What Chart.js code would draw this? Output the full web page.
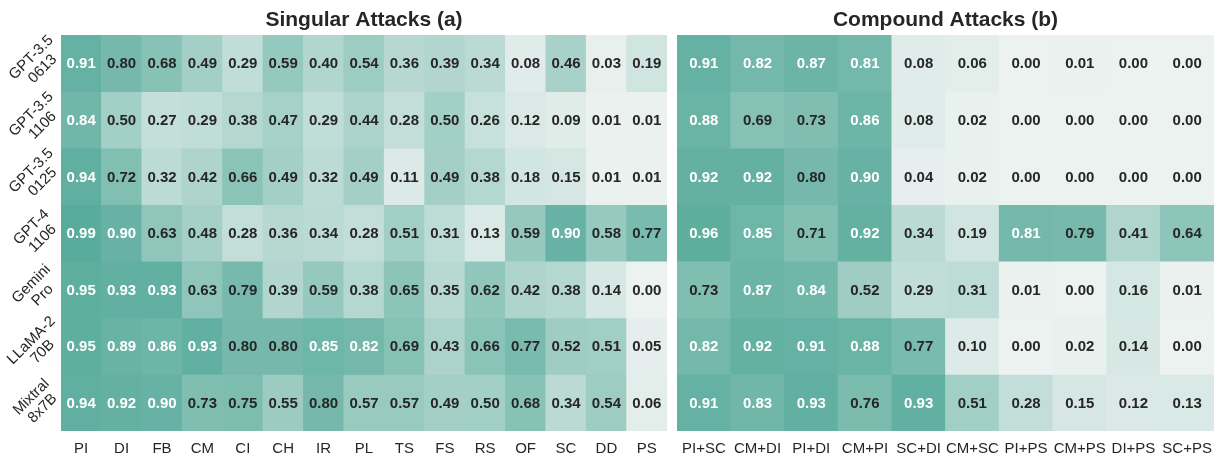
<!DOCTYPE html>
<html>
<head>
<meta charset="utf-8">
<script src="https://cdn.jsdelivr.net/npm/chart.js@4.4.1/dist/chart.umd.min.js"></script>
<style>
html,body{margin:0;padding:0;background:#fff;}
#wrap{position:relative;width:1221px;height:458px;overflow:hidden;}
canvas{position:absolute;top:0;}
</style>
</head>
<body>
<div id="wrap">
<canvas id="c1" width="672" height="458" style="left:0px"></canvas>
<canvas id="c2" width="549" height="458" style="left:672px"></canvas>
</div>
<script>
// ---- data ----
const models = [["GPT-3.5","0613"],["GPT-3.5","1106"],["GPT-3.5","0125"],["GPT-4","1106"],["Gemini","Pro"],["LLaMA-2","70B"],["Mixtral","8x7B"]];
const singularCats = ["PI","DI","FB","CM","CI","CH","IR","PL","TS","FS","RS","OF","SC","DD","PS"];
const compoundCats = ["PI+SC","CM+DI","PI+DI","CM+PI","SC+DI","CM+SC","PI+PS","CM+PS","DI+PS","SC+PS"];

const singular_gpt35_0613 = [0.91,0.80,0.68,0.49,0.29,0.59,0.40,0.54,0.36,0.39,0.34,0.08,0.46,0.03,0.19];
const singular_gpt35_1106 = [0.84,0.50,0.27,0.29,0.38,0.47,0.29,0.44,0.28,0.50,0.26,0.12,0.09,0.01,0.01];
const singular_gpt35_0125 = [0.94,0.72,0.32,0.42,0.66,0.49,0.32,0.49,0.11,0.49,0.38,0.18,0.15,0.01,0.01];
const singular_gpt4_1106  = [0.99,0.90,0.63,0.48,0.28,0.36,0.34,0.28,0.51,0.31,0.13,0.59,0.90,0.58,0.77];
const singular_gemini     = [0.95,0.93,0.93,0.63,0.79,0.39,0.59,0.38,0.65,0.35,0.62,0.42,0.38,0.14,0.00];
const singular_llama2     = [0.95,0.89,0.86,0.93,0.80,0.80,0.85,0.82,0.69,0.43,0.66,0.77,0.52,0.51,0.05];
const singular_mixtral    = [0.94,0.92,0.90,0.73,0.75,0.55,0.80,0.57,0.57,0.49,0.50,0.68,0.34,0.54,0.06];

const compound_gpt35_0613 = [0.91,0.82,0.87,0.81,0.08,0.06,0.00,0.01,0.00,0.00];
const compound_gpt35_1106 = [0.88,0.69,0.73,0.86,0.08,0.02,0.00,0.00,0.00,0.00];
const compound_gpt35_0125 = [0.92,0.92,0.80,0.90,0.04,0.02,0.00,0.00,0.00,0.00];
const compound_gpt4_1106  = [0.96,0.85,0.71,0.92,0.34,0.19,0.81,0.79,0.41,0.64];
const compound_gemini     = [0.73,0.87,0.84,0.52,0.29,0.31,0.01,0.00,0.16,0.01];
const compound_llama2     = [0.82,0.92,0.91,0.88,0.77,0.10,0.00,0.02,0.14,0.00];
const compound_mixtral    = [0.91,0.83,0.93,0.76,0.93,0.51,0.28,0.15,0.12,0.13];

const singularRows = [singular_gpt35_0613,singular_gpt35_1106,singular_gpt35_0125,singular_gpt4_1106,singular_gemini,singular_llama2,singular_mixtral];
const compoundRows = [compound_gpt35_0613,compound_gpt35_1106,compound_gpt35_0125,compound_gpt4_1106,compound_gemini,compound_llama2,compound_mixtral];

// ---- style ----
const LOW = [236,242,240], HIGH = [88,171,155];
function cmap(v){
  const t = Math.max(0, Math.min(1, v));
  const c = LOW.map((l,i)=>Math.round(l + (HIGH[i]-l)*t));
  return `rgb(${c[0]},${c[1]},${c[2]})`;
}
const FONT = '"Liberation Sans", Arial, Helvetica, sans-serif';
const TEXT = '#262626';

function makeDatasets(rows, cats){
  return rows.map((vals, r) => ({
    label: models[r].join(' '),
    data: cats.map(() => [r, r + 1]),
    values: vals,
    backgroundColor: vals.map(cmap),
    borderWidth: 0,
    grouped: false,
    barPercentage: 1,
    categoryPercentage: 1
  }));
}

const heatPlugin = {
  id: 'heatText',
  afterDatasetsDraw(chart, args, opts){
    const ctx = chart.ctx;
    const xs = chart.scales.x, ys = chart.scales.y;
    ctx.save();
    // cell annotations
    ctx.font = `bold 15px ${FONT}`;
    ctx.textAlign = 'center';
    ctx.textBaseline = 'middle';
    chart.data.datasets.forEach((ds, r) => {
      const y = ys.getPixelForValue(r + 0.5);
      ds.values.forEach((v, c) => {
        const x = xs.getPixelForValue(c);
        ctx.fillStyle = v > 0.805 ? '#ffffff' : TEXT;
        ctx.fillText(v.toFixed(2), x, y + 1);
      });
    });
    // x labels
    ctx.font = `15px ${FONT}`;
    ctx.fillStyle = TEXT;
    chart.data.labels.forEach((lab, c) => {
      ctx.fillText(lab, xs.getPixelForValue(c), 449);
    });
    // title
    ctx.font = `bold 21px ${FONT}`;
    ctx.fillText(opts.title, (chart.chartArea.left + chart.chartArea.right) / 2, 20);
    // y labels
    if (opts.yLabels){
      ctx.font = `15px ${FONT}`;
      models.forEach((m, r) => {
        const y = ys.getPixelForValue(r + 0.5);
        ctx.save();
        ctx.translate(chart.chartArea.left - 24, y);
        ctx.rotate(-Math.PI / 4);
        ctx.fillText(m[0], 0, -8);
        ctx.fillText(m[1], 0, 8);
        ctx.restore();
      });
    }
    ctx.restore();
  }
};

function makeChart(id, cats, rows, title, yLabels, padding){
  return new Chart(document.getElementById(id), {
    type: 'bar',
    data: { labels: cats, datasets: makeDatasets(rows, cats) },
    options: {
      responsive: false,
      animation: false,
      devicePixelRatio: 1,
      layout: { padding },
      plugins: {
        legend: { display: false },
        tooltip: { enabled: false },
        title: { display: false },
        heatText: { title, yLabels }
      },
      scales: {
        x: { display: false, offset: true, grid: { display: false } },
        y: { display: false, min: 0, max: models.length, reverse: true }
      }
    },
    plugins: [heatPlugin]
  });
}

makeChart('c1', singularCats, singularRows, 'Singular Attacks (a)', true, {left: 61, right: 5, top: 35, bottom: 27});
makeChart('c2', compoundCats, compoundRows, 'Compound Attacks (b)', false, {left: 5, right: 7, top: 35, bottom: 27});
</script>
</body>
</html>
